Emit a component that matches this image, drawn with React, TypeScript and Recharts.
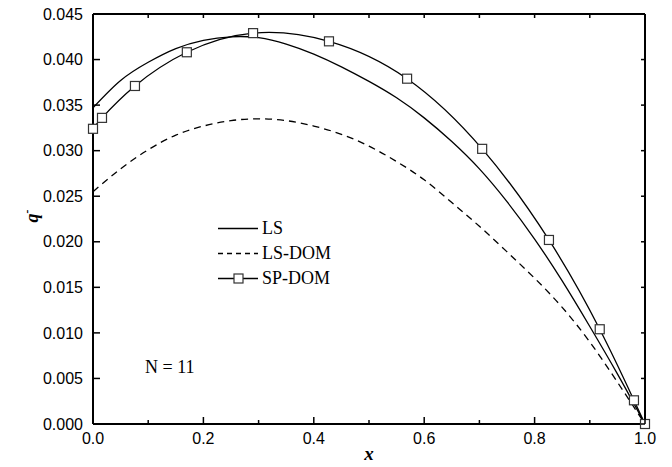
import { LineChart, Line, XAxis, YAxis, Legend } from "recharts"

// SP-DOM: discrete ordinates with square markers
const spX = [0, 0.0163, 0.076, 0.17, 0.29, 0.4275, 0.569, 0.705, 0.826, 0.918, 0.98, 1.0]
const spQ = [0.0324, 0.0336, 0.0371, 0.0408, 0.0429, 0.042, 0.0379, 0.0302, 0.0202, 0.0104, 0.0026, 0.0]

// LS and LS-DOM on a regular x grid
const lsX = [0, 0.05, 0.1, 0.15, 0.2, 0.25, 0.3, 0.35, 0.4, 0.45, 0.5, 0.55, 0.6, 0.65, 0.7, 0.75, 0.8, 0.85, 0.9, 0.95, 1.0]
const lsQ = [0.0347, 0.0377, 0.0397, 0.0412, 0.0421, 0.0425, 0.0424, 0.0417, 0.0406, 0.0392, 0.0376, 0.0358, 0.0336, 0.031, 0.028, 0.0244, 0.0203, 0.0157, 0.0107, 0.0055, 0.0]
const lsDomQ = [0.0255, 0.028, 0.0301, 0.0317, 0.0327, 0.0333, 0.0335, 0.0333, 0.0327, 0.0318, 0.0305, 0.0288, 0.0268, 0.0243, 0.0217, 0.0189, 0.016, 0.0128, 0.009, 0.0046, 0.0]

const xTicks = [0, 0.1, 0.2, 0.3, 0.4, 0.5, 0.6, 0.7, 0.8, 0.9, 1.0]
const xTopTicks = [0.1, 0.2, 0.3, 0.4, 0.5, 0.6, 0.7, 0.8, 0.9]
const yTicks = [0, 0.005, 0.01, 0.015, 0.02, 0.025, 0.03, 0.035, 0.04, 0.045]

const legendItems = [
  { name: "LS", dash: undefined, marker: false },
  { name: "LS-DOM", dash: "5 4", marker: false },
  { name: "SP-DOM", dash: undefined, marker: true },
]

const lsData = lsX.map((x, i) => ({ x, ls: lsQ[i], lsDom: lsDomQ[i] }))
const spData = spX.map((x, i) => ({ x, sp: spQ[i] }))

const sans = "'Liberation Sans', Arial, Helvetica, sans-serif"
const serif = "'Liberation Serif', 'Times New Roman', Times, serif"

// ticks point into the plot, like the original figure
const BottomTick = (props: any) => {
  const { x, y, payload } = props
  const v = payload.value
  const major = Math.round(v * 10) % 2 === 0
  return (
    <g>
      <line x1={x} x2={x} y1={y} y2={y - (major ? 7 : 4)} stroke="#000" strokeWidth={1.5} />
      {major && (
        <text x={x} y={y + 9} dy="0.71em" textAnchor="middle" fill="#000" fontSize={16} fontFamily={sans}>
          {v.toFixed(1)}
        </text>
      )}
    </g>
  )
}

const LeftTick = (props: any) => {
  const { x, y, payload } = props
  return (
    <g>
      <line x1={x} x2={x + 7} y1={y} y2={y} stroke="#000" strokeWidth={1.5} />
      <text x={x - 10} y={y} dy="0.355em" textAnchor="end" fill="#000" fontSize={16} fontFamily={sans}>
        {payload.value.toFixed(3)}
      </text>
    </g>
  )
}

const TopTick = (props: any) => {
  const { x, y } = props
  return <line x1={x} x2={x} y1={y} y2={y + 4} stroke="#000" strokeWidth={1.5} />
}

const RightTick = (props: any) => {
  const { x, y } = props
  return <line x1={x} x2={x - 4} y1={y} y2={y} stroke="#000" strokeWidth={1.5} />
}

const SquareDot = (props: any) => {
  const { cx, cy, index } = props
  if (cx == null || cy == null) return null
  return (
    <rect
      key={`sq-${index}`}
      x={cx - 4.5}
      y={cy - 4.5}
      width={9}
      height={9}
      fill="#fff"
      stroke="#333"
      strokeWidth={1.2}
    />
  )
}

const renderLegend = () => (
  <div style={{ fontFamily: serif, fontSize: 18, color: "#000" }}>
    {legendItems.map((it) => (
      <div key={it.name} style={{ display: "flex", alignItems: "center", height: 25 }}>
        <svg width={40} height={25}>
          <line x1={0} x2={40} y1={12.5} y2={12.5} stroke="#000" strokeWidth={1.3} strokeDasharray={it.dash} />
          {it.marker && <rect x={16} y={8} width={9} height={9} fill="#fff" stroke="#333" strokeWidth={1.2} />}
        </svg>
        <span style={{ marginLeft: 4, lineHeight: "25px" }}>{it.name}</span>
      </div>
    ))}
  </div>
)

export default function App() {
  const frame = { stroke: "#000", strokeWidth: 2 }
  return (
    <div style={{ position: "absolute", left: 0, top: 0, background: "#fff" }}>
      <LineChart
        width={672}
        height={467}
        data={lsData}
        margin={{ top: 13, right: 26, left: 0, bottom: 0 }}
      >
        <XAxis
          xAxisId="x"
          dataKey="x"
          type="number"
          domain={[0, 1]}
          ticks={xTicks}
          interval={0}
          tickLine={false}
          tickSize={0}
          tickMargin={0}
          axisLine={frame}
          tick={BottomTick}
          height={43}
        />
        <XAxis
          xAxisId="xTop"
          orientation="top"
          dataKey="x"
          type="number"
          domain={[0, 1]}
          ticks={xTopTicks}
          interval={0}
          tickLine={false}
          tickSize={0}
          tickMargin={0}
          axisLine={frame}
          tick={TopTick}
          height={1}
        />
        <YAxis
          yAxisId="q"
          type="number"
          domain={[0, 0.045]}
          ticks={yTicks}
          interval={0}
          tickLine={false}
          tickSize={0}
          tickMargin={0}
          axisLine={frame}
          tick={LeftTick}
          width={93}
        />
        <YAxis
          yAxisId="qRight"
          orientation="right"
          type="number"
          domain={[0, 0.045]}
          ticks={yTicks}
          interval={0}
          tickLine={false}
          tickSize={0}
          tickMargin={0}
          axisLine={frame}
          tick={RightTick}
          width={1}
        />

        <Legend
          layout="vertical"
          align="center"
          verticalAlign="middle"
          content={renderLegend}
          wrapperStyle={{ left: 218, top: 216, width: 150 }}
        />

        {/* invisible copy so the top/right frame axes get a domain */}
        <Line xAxisId="xTop" yAxisId="qRight" dataKey="ls" stroke="none" dot={false} activeDot={false} legendType="none" isAnimationActive={false} />

        <Line
          xAxisId="x"
          yAxisId="q"
          dataKey="ls"
          name="LS"
          type="natural"
          stroke="#000"
          strokeWidth={1.3}
          dot={false}
          isAnimationActive={false}
        />
        <Line
          xAxisId="x"
          yAxisId="q"
          dataKey="lsDom"
          name="LS-DOM"
          type="natural"
          stroke="#000"
          strokeWidth={1.3}
          strokeDasharray="7 5"
          dot={false}
          isAnimationActive={false}
        />
        <Line
          xAxisId="x"
          yAxisId="q"
          data={spData}
          dataKey="sp"
          name="SP-DOM"
          type="natural"
          stroke="#000"
          strokeWidth={1.3}
          dot={SquareDot}
          isAnimationActive={false}
        />

        <text x={145} y={373} fontFamily={serif} fontSize={18} fill="#000">
          N = 11
        </text>
        <text
          x={369}
          y={460}
          textAnchor="middle"
          fontFamily={serif}
          fontSize={19}
          fontWeight="bold"
          fontStyle="italic"
          fill="#000"
        >
          x
        </text>
        <text
          x={38}
          y={216}
          textAnchor="middle"
          transform="rotate(-90 38 216)"
          fontFamily={serif}
          fontSize={18}
          fontWeight="bold"
          fontStyle="italic"
          fill="#000"
        >
          q<tspan dy={-7} fontSize={12}>-</tspan>
        </text>
      </LineChart>
    </div>
  )
}
